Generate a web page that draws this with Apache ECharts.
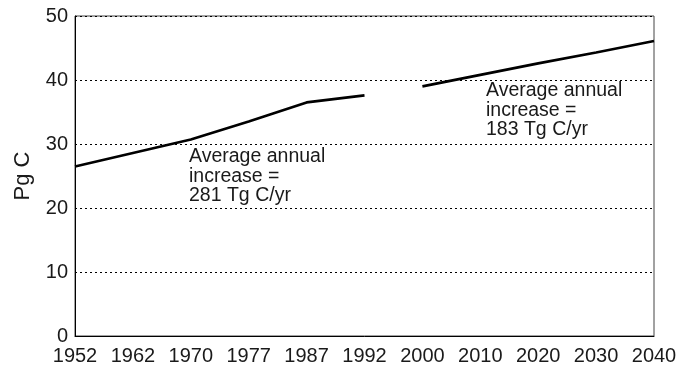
<!DOCTYPE html>
<html>
<head>
<meta charset="utf-8">
<title>Pg C</title>
<script src="https://cdn.jsdelivr.net/npm/echarts@6/dist/echarts.min.js"></script>
<style>
  html, body { margin: 0; padding: 0; background: #fff; }
  #chart { width: 689px; height: 368px; }
</style>
</head>
<body>
<div id="chart"></div>
<script>
// Year labels along the x axis
const years = ['1952', '1962', '1970', '1977', '1987', '1992', '2000', '2010', '2020', '2030', '2040'];
// Historical carbon stock (Pg C), 1952-1992
const historical = [26.5, 28.6, 30.7, 33.5, 36.5, 37.6, null, null, null, null, null];
// Projected carbon stock (Pg C), 2000-2040
const projected = [null, null, null, null, null, null, 39.0, 40.8, 42.6, 44.3, 46.1];
// Y axis ticks
const yTicks = [0, 10, 20, 30, 40, 50];
// Annotation text
const noteHistorical = ['Average annual', 'increase =', '281 Tg C/yr'];
const noteProjected = ['Average annual', 'increase =', '183 Tg C/yr'];

const FONT = '"Liberation Sans", Arial, sans-serif';
const chart = echarts.init(document.getElementById('chart'), null, { renderer: 'canvas' });

const lineSeries = (name, data) => ({
  name: name,
  type: 'line',
  data: data,
  showSymbol: false,
  symbol: 'none',
  connectNulls: false,
  silent: true,
  animation: false,
  lineStyle: { color: '#000', width: 2.6 }
});

const noteText = (lines, left, top) => ({
  type: 'text',
  left: left,
  top: top,
  silent: true,
  style: {
    text: lines.join('\n'),
    font: '19.5px ' + FONT,
    fill: '#1a1a1a',
    lineHeight: 19.5
  }
});

chart.setOption({
  animation: false,
  backgroundColor: '#fff',
  grid: {
    left: 75, right: 35, top: 16, bottom: 32,
    show: true, borderColor: '#444', borderWidth: 1
  },
  xAxis: {
    type: 'category',
    data: years,
    boundaryGap: false,
    axisLine: { lineStyle: { color: '#000', width: 1 } },
    axisTick: { show: false },
    axisLabel: { color: '#1a1a1a', fontSize: 20, fontFamily: FONT, margin: 10, interval: 0 },
    splitLine: { show: false }
  },
  yAxis: {
    type: 'value',
    min: yTicks[0],
    max: yTicks[yTicks.length - 1],
    interval: yTicks[1] - yTicks[0],
    name: 'Pg C',
    nameLocation: 'middle',
    nameGap: 41,
    nameRotate: 90,
    nameTextStyle: { color: '#1a1a1a', fontSize: 22, fontFamily: FONT },
    axisLine: { show: true, lineStyle: { color: '#000', width: 1 } },
    axisTick: { show: false },
    axisLabel: { color: '#1a1a1a', fontSize: 20, fontFamily: FONT, margin: 7 },
    splitLine: { show: true, lineStyle: { color: '#000', type: [2, 3], width: 1 } }
  },
  series: [
    lineSeries('historical', historical),
    lineSeries('projected', projected)
  ],
  graphic: [
    noteText(noteHistorical, 189, 147),
    noteText(noteProjected, 486, 81)
  ]
});
</script>
</body>
</html>
